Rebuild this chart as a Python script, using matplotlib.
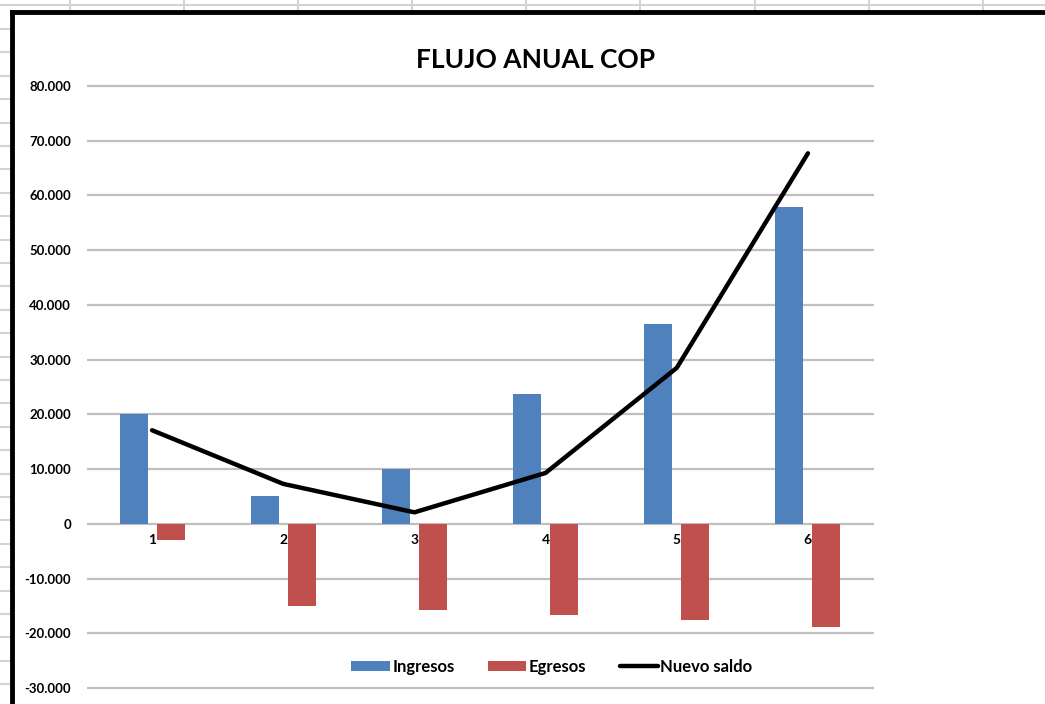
import matplotlib.pyplot as plt
from matplotlib.lines import Line2D
from matplotlib.ticker import FuncFormatter
import numpy as np

plt.rcParams['font.family'] = ['Lato', 'DejaVu Sans']
plt.rcParams['font.weight'] = 'bold'

periodos = [1, 2, 3, 4, 5, 6]
ingresos = [20000, 5000, 10100, 23700, 36600, 57800]
egresos = [-3000, -15000, -15800, -16700, -17500, -18800]
nuevo_saldo = [17100, 7300, 2100, 9300, 28500, 67700]
y_ticks = [80000, 70000, 60000, 50000, 40000, 30000, 20000, 10000, 0,
           -10000, -20000, -30000]

W, H = 1045, 704
fig = plt.figure(figsize=(W / 100, H / 100), dpi=100)

# spreadsheet background behind the chart
grid_c = '#d4d4d4'
for xc in [70, 184, 298, 412, 526, 640, 755, 869, 983]:
    fig.add_artist(Line2D([xc / W, xc / W], [1, 1 - 12 / H], color=grid_c, lw=1.5))
fig.add_artist(Line2D([0, 1], [1 - 5 / H, 1 - 5 / H], color=grid_c, lw=1.5))
for yr in np.arange(29, H, 23.4):
    fig.add_artist(Line2D([0, 9 / W], [1 - yr / H, 1 - yr / H], color=grid_c, lw=1.5))

# chart frame
fig.add_artist(Line2D([12 / W, 12 / W], [0, 1 - 12 / H], color='black', lw=3.5))
fig.add_artist(Line2D([12 / W, 1], [1 - 12 / H, 1 - 12 / H], color='black', lw=3.5))

ax = fig.add_axes([86.5 / W, 10.5 / H, 787 / W, 613 / H])
ax.set_xlim(0.5, 6.5)
ax.set_ylim(-31000, 81000)

x = np.array(periodos)
off = 0.141
bw = 0.214
b1 = ax.bar(x - off, ingresos, bw, color='#4f81bd', label='Ingresos', zorder=2)
b2 = ax.bar(x + off, egresos, bw, color='#c0504d', label='Egresos', zorder=2)
l1, = ax.plot(x, nuevo_saldo, color='black', lw=3.2, solid_joinstyle='round',
              solid_capstyle='round', label='Nuevo saldo', zorder=3)

for yv in y_ticks:
    ax.axhline(yv, color='#bfbfbf', lw=1.6, zorder=1)

ax.set_yticks(y_ticks)
ax.yaxis.set_major_formatter(FuncFormatter(lambda v, p: f'{int(v):,}'.replace(',', '.')))
ax.tick_params(axis='y', length=0, pad=11, labelsize=9.5)
ax.set_xticks([])
for s in ax.spines.values():
    s.set_visible(False)

for p in periodos:
    ax.annotate(str(p), (p, 0), xytext=(0, -7), textcoords='offset points',
                ha='center', va='top', fontsize=10, fontweight='bold')

fig.text(536 / W, 1 - 60 / H, 'FLUJO ANUAL COP', ha='center', va='center',
         fontsize=19, fontweight='bold')

ax.legend([b1, b2, l1], ['Ingresos', 'Egresos', 'Nuevo saldo'],
          loc='center', bbox_to_anchor=(552 / W, 1 - 667 / H),
          bbox_transform=fig.transFigure, ncol=3, frameon=False,
          prop={'size': 12, 'weight': 'bold'}, handlelength=2.3,
          handleheight=0.6, columnspacing=2.0, handletextpad=0.15)

fig.savefig('out.png', dpi=100)
